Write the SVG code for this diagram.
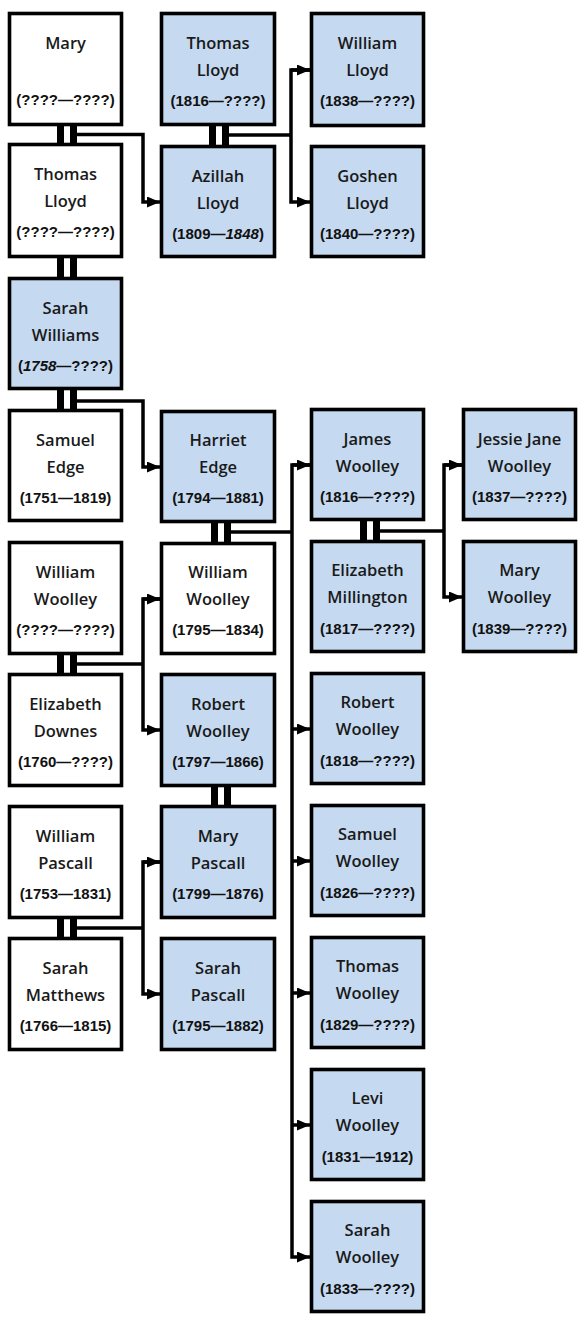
<svg xmlns="http://www.w3.org/2000/svg" width="584" height="1326" viewBox="0 0 584 1326">
<style>
.box{stroke:#000;stroke-width:3.6}
.w{fill:#fff}
.b{fill:#c5d9f0}
.nm{font-family:"Open Sans","Noto Sans",sans-serif;font-size:16.5px;font-weight:600;fill:#1a1a1a;text-anchor:middle}
.dt{font-family:"Liberation Sans",Arial,sans-serif;font-size:15px;font-weight:bold;fill:#111;text-anchor:middle}
.it{font-style:italic}
.ln{fill:none;stroke:#000;stroke-width:3.5;stroke-linejoin:miter}
.bar{fill:#000}
</style>
<defs>
<marker id="ah" markerUnits="userSpaceOnUse" markerWidth="13" markerHeight="11" refX="13" refY="5.5" orient="auto">
<path d="M0,0 L13,5.5 L0,11 Z" fill="#000"/>
</marker>
</defs>
<rect width="584" height="1326" fill="#fff"/>

<g id="connectors">
<rect class="bar" x="57" y="125" width="7" height="20"/><rect class="bar" x="70" y="125" width="7" height="20"/>
<rect class="bar" x="57" y="257" width="7" height="21"/><rect class="bar" x="70" y="257" width="7" height="21"/>
<rect class="bar" x="57" y="389" width="7" height="21"/><rect class="bar" x="70" y="389" width="7" height="21"/>
<rect class="bar" x="57" y="654" width="7" height="20"/><rect class="bar" x="70" y="654" width="7" height="20"/>
<rect class="bar" x="57" y="918" width="7" height="20"/><rect class="bar" x="70" y="918" width="7" height="20"/>
<rect class="bar" x="209" y="125" width="7" height="21"/><rect class="bar" x="222" y="125" width="7" height="21"/>
<rect class="bar" x="211" y="521" width="7" height="22"/><rect class="bar" x="224" y="521" width="7" height="22"/>
<rect class="bar" x="211" y="786" width="7" height="20"/><rect class="bar" x="224" y="786" width="7" height="20"/>
<rect class="bar" x="360" y="520" width="7" height="21"/><rect class="bar" x="373" y="520" width="7" height="21"/>
<polyline class="ln" points="77,134.5 143,134.5 143,202 160,202" marker-end="url(#ah)"/>
<polyline class="ln" points="229,135 291,135"/>
<polyline class="ln" points="310,70 291,70 291,202 310,202" marker-end="url(#ah)"/>
<line class="ln" x1="291" y1="70" x2="310" y2="70" marker-end="url(#ah)"/>
<polyline class="ln" points="77,401 143,401 143,467 160,467" marker-end="url(#ah)"/>
<polyline class="ln" points="231,532 292,532"/>
<polyline class="ln" points="310,465 292,465 292,1257 310,1257" marker-end="url(#ah)"/>
<line class="ln" x1="292" y1="465" x2="310" y2="465" marker-end="url(#ah)"/>
<line class="ln" x1="292" y1="729" x2="310" y2="729" marker-end="url(#ah)"/>
<line class="ln" x1="292" y1="861" x2="310" y2="861" marker-end="url(#ah)"/>
<line class="ln" x1="292" y1="993" x2="310" y2="993" marker-end="url(#ah)"/>
<line class="ln" x1="292" y1="1125" x2="310" y2="1125" marker-end="url(#ah)"/>
<polyline class="ln" points="380,531 444,531"/>
<polyline class="ln" points="462,465 444,465 444,597 462,597" marker-end="url(#ah)"/>
<line class="ln" x1="444" y1="465" x2="462" y2="465" marker-end="url(#ah)"/>
<polyline class="ln" points="77,664 143,664"/>
<polyline class="ln" points="160,599 143,599 143,730 160,730" marker-end="url(#ah)"/>
<line class="ln" x1="143" y1="599" x2="160" y2="599" marker-end="url(#ah)"/>
<polyline class="ln" points="77,928 143,928"/>
<polyline class="ln" points="160,862 143,862 143,994 160,994" marker-end="url(#ah)"/>
<line class="ln" x1="143" y1="862" x2="160" y2="862" marker-end="url(#ah)"/>
</g>

<g id="mary"><rect class="box w" x="9.5" y="13.5" width="112" height="111"/>
<text class="nm" x="65.5" y="49">Mary</text><text class="dt" x="65.5" y="105">(????—????)</text></g>
<g id="thomas-lloyd-sr"><rect class="box w" x="9.5" y="144.5" width="112" height="112"/>
<text class="nm" x="65.5" y="180">Thomas</text><text class="nm" x="65.5" y="207">Lloyd</text><text class="dt" x="65.5" y="237">(????—????)</text></g>
<g id="sarah-williams"><rect class="box b" x="9.5" y="278.5" width="112" height="110"/>
<text class="nm" x="65.5" y="314">Sarah</text><text class="nm" x="65.5" y="341">Williams</text><text class="dt" x="65.5" y="371">(<tspan class="it">1758</tspan>—????)</text></g>
<g id="samuel-edge"><rect class="box w" x="9.5" y="410.5" width="112" height="110"/>
<text class="nm" x="65.5" y="446">Samuel</text><text class="nm" x="65.5" y="473">Edge</text><text class="dt" x="65.5" y="503">(1751—1819)</text></g>
<g id="william-woolley-sr"><rect class="box w" x="9.5" y="542.5" width="112" height="111"/>
<text class="nm" x="65.5" y="578">William</text><text class="nm" x="65.5" y="605">Woolley</text><text class="dt" x="65.5" y="635">(????—????)</text></g>
<g id="elizabeth-downes"><rect class="box w" x="9.5" y="674.5" width="112" height="111"/>
<text class="nm" x="65.5" y="710">Elizabeth</text><text class="nm" x="65.5" y="737">Downes</text><text class="dt" x="65.5" y="767">(1760—????)</text></g>
<g id="william-pascall"><rect class="box w" x="9.5" y="806.5" width="112" height="111"/>
<text class="nm" x="65.5" y="842">William</text><text class="nm" x="65.5" y="869">Pascall</text><text class="dt" x="65.5" y="899">(1753—1831)</text></g>
<g id="sarah-matthews"><rect class="box w" x="9.5" y="938.5" width="112" height="111"/>
<text class="nm" x="65.5" y="974">Sarah</text><text class="nm" x="65.5" y="1001">Matthews</text><text class="dt" x="65.5" y="1031">(1766—1815)</text></g>

<g id="thomas-lloyd-jr"><rect class="box b" x="161.5" y="13.5" width="113" height="111"/>
<text class="nm" x="218" y="49">Thomas</text><text class="nm" x="218" y="76">Lloyd</text><text class="dt" x="218" y="106">(1816—????)</text></g>
<g id="azillah-lloyd"><rect class="box b" x="161.5" y="146.5" width="113" height="110"/>
<text class="nm" x="218" y="182">Azillah</text><text class="nm" x="218" y="209">Lloyd</text><text class="dt" x="218" y="239">(1809—<tspan class="it">1848</tspan>)</text></g>
<g id="harriet-edge"><rect class="box b" x="161.5" y="411.5" width="113" height="110"/>
<text class="nm" x="218" y="446">Harriet</text><text class="nm" x="218" y="473">Edge</text><text class="dt" x="218" y="503">(1794—1881)</text></g>
<g id="william-woolley-jr"><rect class="box w" x="161.5" y="543.5" width="113" height="110"/>
<text class="nm" x="218" y="578">William</text><text class="nm" x="218" y="605">Woolley</text><text class="dt" x="218" y="635">(1795—1834)</text></g>
<g id="robert-woolley-sr"><rect class="box b" x="161.5" y="674.5" width="113" height="111"/>
<text class="nm" x="218" y="710">Robert</text><text class="nm" x="218" y="737">Woolley</text><text class="dt" x="218" y="767">(1797—1866)</text></g>
<g id="mary-pascall"><rect class="box b" x="161.5" y="806.5" width="113" height="111"/>
<text class="nm" x="218" y="842">Mary</text><text class="nm" x="218" y="869">Pascall</text><text class="dt" x="218" y="899">(1799—1876)</text></g>
<g id="sarah-pascall"><rect class="box b" x="161.5" y="938.5" width="113" height="111"/>
<text class="nm" x="218" y="974">Sarah</text><text class="nm" x="218" y="1001">Pascall</text><text class="dt" x="218" y="1031">(1795—1882)</text></g>

<g id="william-lloyd"><rect class="box b" x="311.5" y="13.5" width="112" height="112"/>
<text class="nm" x="367.5" y="49">William</text><text class="nm" x="367.5" y="76">Lloyd</text><text class="dt" x="367.5" y="106">(1838—????)</text></g>
<g id="goshen-lloyd"><rect class="box b" x="311.5" y="146.5" width="112" height="110"/>
<text class="nm" x="367.5" y="182">Goshen</text><text class="nm" x="367.5" y="209">Lloyd</text><text class="dt" x="367.5" y="239">(1840—????)</text></g>
<g id="james-woolley"><rect class="box b" x="311.5" y="409.5" width="112" height="110"/>
<text class="nm" x="367.5" y="445">James</text><text class="nm" x="367.5" y="472">Woolley</text><text class="dt" x="367.5" y="502">(1816—????)</text></g>
<g id="elizabeth-millington"><rect class="box b" x="311.5" y="541.5" width="112" height="110"/>
<text class="nm" x="367.5" y="576">Elizabeth</text><text class="nm" x="367.5" y="603">Millington</text><text class="dt" x="367.5" y="634">(1817—????)</text></g>
<g id="robert-woolley-jr"><rect class="box b" x="311.5" y="673.5" width="112" height="110"/>
<text class="nm" x="367.5" y="708">Robert</text><text class="nm" x="367.5" y="735">Woolley</text><text class="dt" x="367.5" y="766">(1818—????)</text></g>
<g id="samuel-woolley"><rect class="box b" x="311.5" y="805.5" width="112" height="110"/>
<text class="nm" x="367.5" y="840">Samuel</text><text class="nm" x="367.5" y="867">Woolley</text><text class="dt" x="367.5" y="898">(1826—????)</text></g>
<g id="thomas-woolley"><rect class="box b" x="311.5" y="937.5" width="112" height="110"/>
<text class="nm" x="367.5" y="972">Thomas</text><text class="nm" x="367.5" y="999">Woolley</text><text class="dt" x="367.5" y="1030">(1829—????)</text></g>
<g id="levi-woolley"><rect class="box b" x="311.5" y="1069.5" width="112" height="110"/>
<text class="nm" x="367.5" y="1104">Levi</text><text class="nm" x="367.5" y="1131">Woolley</text><text class="dt" x="367.5" y="1162">(1831—1912)</text></g>
<g id="sarah-woolley"><rect class="box b" x="311.5" y="1201.5" width="112" height="110"/>
<text class="nm" x="367.5" y="1236">Sarah</text><text class="nm" x="367.5" y="1263">Woolley</text><text class="dt" x="367.5" y="1294">(1833—????)</text></g>

<g id="jessie-jane-woolley"><rect class="box b" x="463.5" y="409.5" width="112" height="110"/>
<text class="nm" x="519.5" y="445">Jessie Jane</text><text class="nm" x="519.5" y="472">Woolley</text><text class="dt" x="519.5" y="502">(1837—????)</text></g>
<g id="mary-woolley"><rect class="box b" x="463.5" y="541.5" width="112" height="110"/>
<text class="nm" x="519.5" y="576">Mary</text><text class="nm" x="519.5" y="603">Woolley</text><text class="dt" x="519.5" y="634">(1839—????)</text></g>
</svg>
